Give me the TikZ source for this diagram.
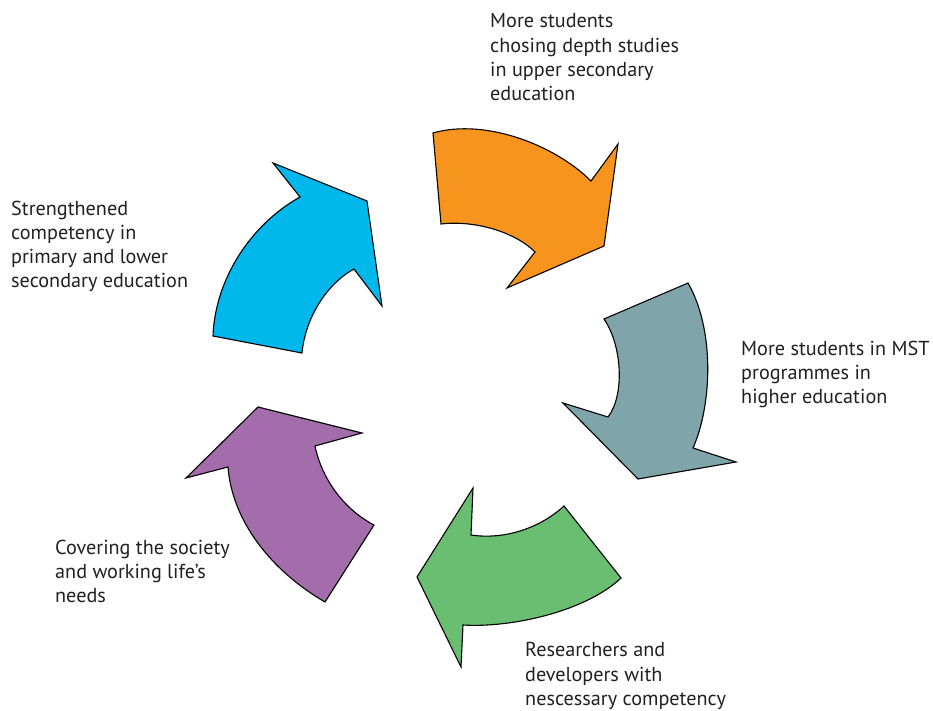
\documentclass[tikz,border=0pt]{standalone}
\usepackage{fontspec}
\setmainfont{PT Sans}
\definecolor{txt}{RGB}{35,31,32}
\definecolor{corange}{RGB}{247,148,29}
\definecolor{cteal}{RGB}{127,164,169}
\definecolor{cgreen}{RGB}{106,190,114}
\definecolor{cpurple}{RGB}{163,108,170}
\definecolor{cblue}{RGB}{0,184,236}
\tikzset{
  arrowshape/.style={draw=black, line width=1.1pt, line join=miter},
  label/.style={anchor=base west, align=left, inner sep=0pt, text=txt,
    font=\fontsize{20.2}{24.2}\selectfont}
}
\begin{document}
\begin{tikzpicture}[x=1pt,y=-1pt]
\useasboundingbox (0,0) rectangle (933,711);
% orange
\path[arrowshape, fill=corange] (433,133) .. controls (485,118) and (555,145) .. (591,181)
  -- (618,144) -- (604,246) -- (507,288) -- (535,252)
  .. controls (515,232) and (475,220) .. (441,224) -- cycle;
% teal
\path[arrowshape, fill=cteal] (688,283) -- (604,319)
  .. controls (622,345) and (625,395) .. (608,417)
  -- (563,403) -- (638,479) -- (736,462) -- (693,448)
  .. controls (712,405) and (715,330) .. (688,283) -- cycle;
% green
\path[arrowshape, fill=cgreen] (564,506) .. controls (540,528) and (505,540) .. (471,535)
  -- (473,488) -- (417,577) -- (461,667) -- (463,625)
  .. controls (510,628) and (585,612) .. (621,578) -- cycle;
% purple
\path[arrowshape, fill=cpurple] (325,602) -- (374,525)
  .. controls (345,510) and (322,480) .. (315,446)
  -- (362,433) -- (258,407) -- (186,478) -- (228,467)
  .. controls (232,520) and (270,570) .. (325,602) -- cycle;
% blue
\path[arrowshape, fill=cblue] (213,336) -- (302,353)
  .. controls (305,320) and (325,285) .. (354,269)
  -- (382,306) -- (367,201) -- (273,163) -- (300,197)
  .. controls (250,225) and (215,280) .. (213,336) -- cycle;
% labels (anchor = baseline of last line)
\node[label] (l1) at (490,100.6) {More students\\chosing depth studies\\in upper secondary\\education};
\node[label] (l2) at (741,403.4) {More students in MST\\programmes in\\higher education};
\node[label] (l3) at (525,705.2) {Researchers and\\developers with\\nescessary competency};
\node[label] (l4) at (55,602.4) {Covering the society\\and working life’s\\needs};
\node[label] (l5) at (11,287.6) {Strengthened\\competency in\\primary and lower\\secondary education};
\end{tikzpicture}
\end{document}
